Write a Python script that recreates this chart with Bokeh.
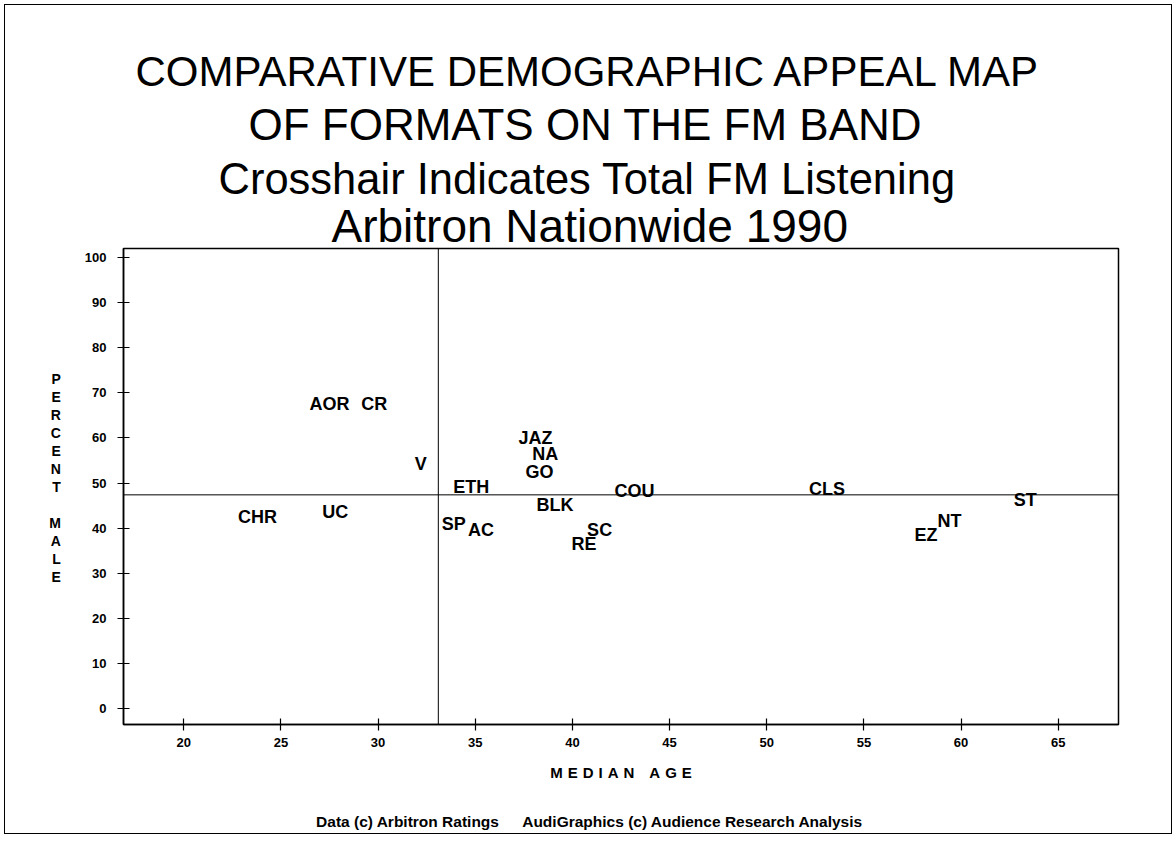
from bokeh.plotting import figure
from bokeh.models import ColumnDataSource, Span, FixedTicker, Range1d, Title, LinearAxis
from bokeh.core.properties import value
from bokeh.embed import file_html
from bokeh.resources import INLINE

# ---- data ----
formats = ["CHR", "UC", "AOR", "CR", "V", "ETH", "SP", "AC", "JAZ", "NA", "GO",
           "BLK", "COU", "SC", "RE", "CLS", "NT", "EZ", "ST"]
median_age = [23.8, 27.8, 27.5, 29.8, 32.2, 34.8, 33.9, 35.3, 38.1, 38.6, 38.3,
              39.1, 43.2, 41.4, 40.6, 53.1, 59.4, 58.2, 63.3]
percent_male = [42.5, 43.7, 67.6, 67.6, 54.3, 49.2, 41.0, 39.5, 59.9, 56.5, 52.5,
                45.2, 48.3, 39.7, 36.6, 48.8, 41.7, 38.4, 46.3]
total_fm_age = 33.1
total_fm_male = 47.4
x_ticks = [20, 25, 30, 35, 40, 45, 50, 55, 60, 65]
y_ticks = [0, 10, 20, 30, 40, 50, 60, 70, 80, 90, 100]

title_lines = ["COMPARATIVE DEMOGRAPHIC APPEAL MAP",
               "OF FORMATS ON THE FM BAND",
               "Crosshair Indicates Total FM Listening",
               "Arbitron Nationwide 1990"]
x_label = "MEDIAN AGE"
y_label = "PERCENT MALE"
footnote = "Data (c) Arbitron Ratings\u2002\u2002\u2002AudiGraphics (c) Audience Research Analysis"

FONT = "Liberation Sans"
EN = "\u2002"
THIRD = "\u2004"

p = figure(width=1168, height=830, output_backend="svg", toolbar_location=None,
           x_range=Range1d(16.9, 68.1), y_range=Range1d(-3.5, 102.0),
           min_border_left=118, min_border_right=55, min_border_top=243,
           min_border_bottom=111)
p.styles = {"border": "1px solid black", "margin": "4px 0px 0px 4px"}
p.background_fill_color = "white"
p.border_fill_color = "white"
p.grid.visible = False
p.outline_line_color = "black"
p.outline_line_width = 1.5

for ax in (p.xaxis[0], p.yaxis[0]):
    ax.axis_line_color = "black"
    ax.axis_line_width = 1.5
    ax.major_tick_in = 6
    ax.major_tick_out = 6
    ax.major_tick_line_color = "black"
    ax.major_tick_line_width = 1.2
    ax.minor_tick_line_color = None
    ax.major_label_text_font = FONT
    ax.major_label_text_font_style = "bold"
    ax.major_label_text_font_size = "13px"
    ax.major_label_text_color = "black"
    ax.axis_label_text_font = FONT
    ax.axis_label_text_font_style = "bold"
    ax.axis_label_text_color = "black"
p.xaxis.ticker = FixedTicker(ticks=x_ticks)
p.yaxis.ticker = FixedTicker(ticks=y_ticks)
p.xaxis.major_label_standoff = 7
p.yaxis.major_label_standoff = 11

# x axis label, letter spaced
words = [THIRD.join(w) for w in x_label.split(" ")]
p.xaxis.axis_label = (THIRD * 3).join(words)
p.xaxis.axis_label_text_font_size = "15px"
p.xaxis.axis_label_standoff = 14

# y axis label: stacked letters
stack = "\n".join(ch if ch != " " else EN for ch in y_label) + "\n" + EN
p.yaxis.axis_label = stack
p.yaxis.axis_label_orientation = "horizontal"
p.yaxis.axis_label_text_font_size = "14px"
p.yaxis.axis_label_text_line_height = 1.125
p.yaxis.axis_label_standoff = 21

# footnote as the label of a tick-less extra axis below
foot_ax = LinearAxis(ticker=FixedTicker(ticks=[]), axis_label=footnote + EN * 8,
                     axis_line_color=None, major_tick_line_color=None,
                     minor_tick_line_color=None, major_tick_out=0, major_tick_in=0,
                     major_label_standoff=0, axis_label_standoff=29,
                     axis_label_text_font=FONT, axis_label_text_font_style="bold",
                     axis_label_text_font_size="15.5px", axis_label_text_color="black")
p.add_layout(foot_ax, "below")

# crosshair
p.add_layout(Span(location=total_fm_age, dimension="height", line_color="black", line_width=1))
p.add_layout(Span(location=total_fm_male, dimension="width", line_color="black", line_width=1))

src = ColumnDataSource(dict(x=median_age, y=percent_male, t=formats))
p.text(x="x", y="y", text="t", source=src, text_align="center", text_baseline="middle",
       text_font=value(FONT), text_font_style="bold", text_font_size="18px",
       text_color="black")

# titles, added from the one nearest the plot outward
title_sizes = ["42px", "44px", "43.5px", "46px"]
title_offsets = [12, 125, 95, 208]
title_standoffs = [-6, 12, -4, -6]
for line, fs, off, so in reversed(list(zip(title_lines, title_sizes, title_offsets, title_standoffs))):
    p.add_layout(Title(text=line, align="left", offset=off, standoff=so,
                       text_font=FONT, text_font_style="normal", text_font_size=fs,
                       text_color="black"), "above")

open("out.html", "w").write(file_html(p, INLINE))
